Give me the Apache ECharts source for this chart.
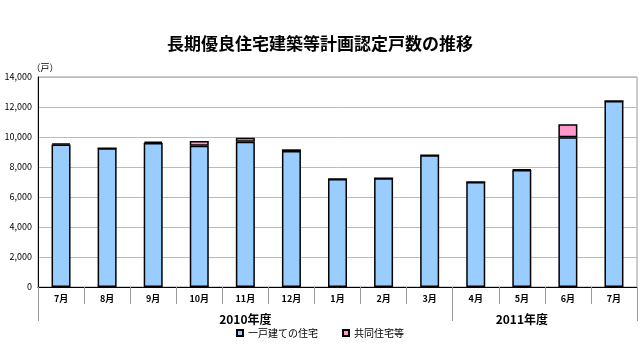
<!DOCTYPE html>
<html><head><meta charset="utf-8">
<script src="https://cdn.jsdelivr.net/npm/echarts@6/dist/echarts.min.js"></script>
<style>html,body{margin:0;padding:0;background:#fff}#c{width:640px;height:360px}</style>
</head><body><div id="c"></div>
<script>
const months = ['7月','8月','9月','10月','11月','12月','1月','2月','3月','4月','5月','6月','7月'];
const detached = [9500, 9250, 9600, 9420, 9680, 9060, 7200, 7250, 8780, 7000, 7800, 9980, 12400];
const collective = [80, 0, 90, 310, 270, 120, 0, 0, 0, 0, 40, 870, 0];
const fiscalYears = ['2010年度', '2011年度'];
const fiscalCenters = [4.5, 10.5];
const fiscalBounds = [0, 9, 13];
const yTicks = [0, 2000, 4000, 6000, 8000, 10000, 12000, 14000];

const font = '"Noto Sans CJK JP", sans-serif';
const chart = echarts.init(document.getElementById('c'));
chart.setOption({
  animation: false,
  textStyle: {fontFamily: font},
  title: {
    text: '長期優良住宅建築等計画認定戸数の推移',
    left: 'center', top: 30,
    textStyle: {fontSize: 17, fontWeight: 'bold', color: '#000', fontFamily: font}
  },
  grid: {left: 38, right: 3, top: 77, bottom: 73, show: true, borderColor: '#999', borderWidth: 1},
  legend: {
    bottom: 17, left: 'center',
    itemWidth: 6, itemHeight: 6, itemGap: 24, icon: 'rect',
    textStyle: {fontSize: 10, color: '#000', fontFamily: font}
  },
  xAxis: [{
    type: 'category', data: months,
    axisLine: {lineStyle: {color: '#000', width: 1}},
    axisTick: {show: true, length: 17, interval: 0, lineStyle: {color: '#999'}},
    axisLabel: {fontSize: 9, color: '#000', margin: 7, interval: 0, fontWeight: 'bold'}
  }, {
    type: 'value', min: 0, max: 13, position: 'bottom',
    axisLine: {show: false},
    splitLine: {show: false},
    axisTick: {show: true, length: 34, customValues: fiscalBounds, lineStyle: {color: '#999'}},
    axisLabel: {
      customValues: fiscalCenters, margin: 26, fontSize: 12, color: '#000', fontWeight: 'bold',
      formatter: v => fiscalYears[fiscalCenters.indexOf(v)] || ''
    }
  }],
  yAxis: {
    type: 'value', min: 0, max: 14000, interval: 2000,
    name: '（戸）', nameLocation: 'end', nameGap: 5,
    nameTextStyle: {fontSize: 9, color: '#000', align: 'center', padding: [0, 0, 0, 14]},
    axisLine: {show: true, lineStyle: {color: '#000'}},
    axisTick: {show: false},
    splitLine: {lineStyle: {color: '#bbb'}},
    axisLabel: {fontSize: 9, color: '#000', margin: 6,
      formatter: v => yTicks.includes(v) ? v.toLocaleString('en-US') : ''}
  },
  series: [{
    name: '一戸建ての住宅', type: 'bar', stack: 'a', data: detached, barWidth: 19, xAxisIndex: 0,
    itemStyle: {color: '#99CCFF', borderColor: '#000', borderWidth: 1.5}
  }, {
    name: '共同住宅等', type: 'bar', stack: 'a', data: collective, barWidth: 19, xAxisIndex: 0,
    itemStyle: {color: '#FF99CC', borderColor: '#000', borderWidth: 1.5}
  }]
});
</script></body></html>
